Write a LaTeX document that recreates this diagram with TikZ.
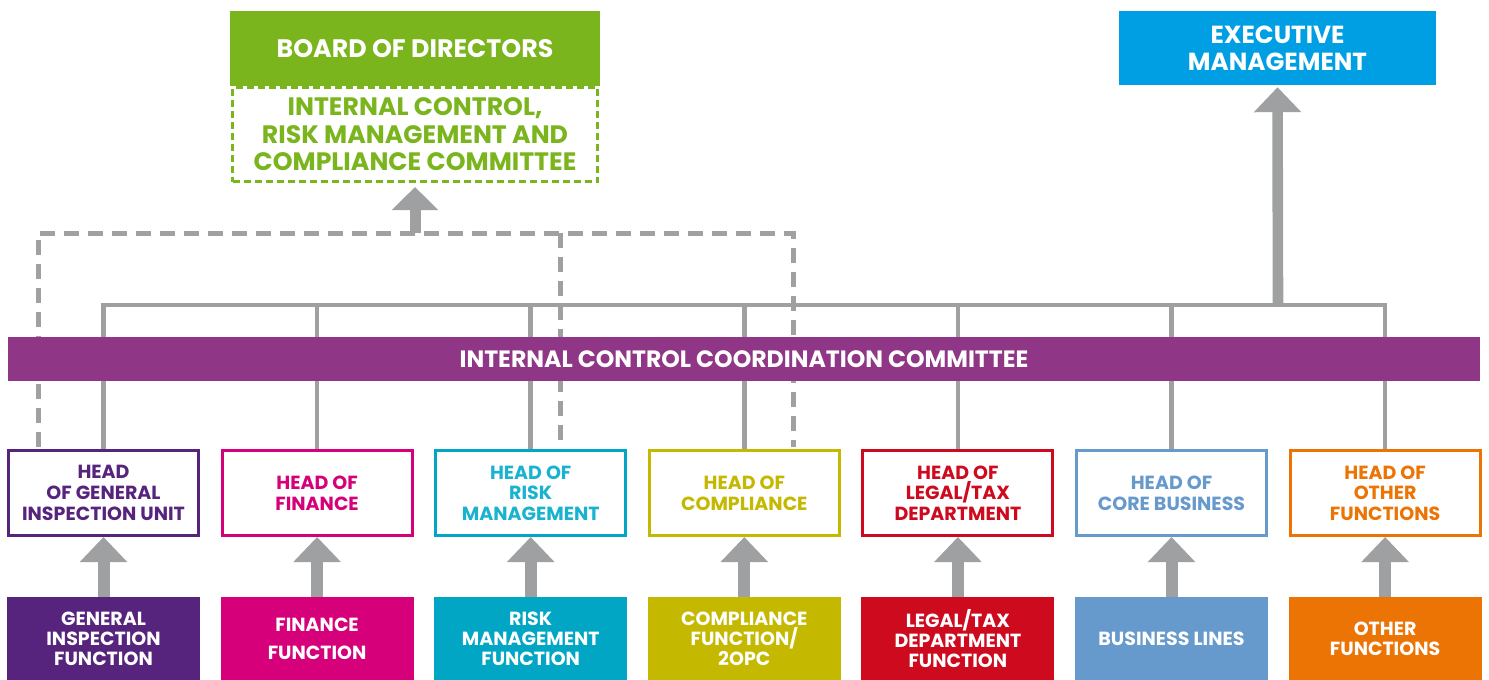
\documentclass[tikz,border=0pt]{standalone}
\usepackage{fontspec}
\newfontfamily\pf{Poppins}
\usetikzlibrary{arrows.meta,calc,backgrounds}
\definecolor{cgreen}{HTML}{7AB51D}
\definecolor{cblue}{HTML}{009FE3}
\definecolor{cband}{HTML}{8F3786}
\definecolor{cgray}{HTML}{9FA0A2}
\definecolor{cpur}{HTML}{56237D}
\definecolor{cmag}{HTML}{D5007A}
\definecolor{ccyan}{HTML}{00A6C4}
\definecolor{ccyant}{HTML}{1AB3CF}
\definecolor{colive}{HTML}{C5B800}
\definecolor{cred}{HTML}{CE0A1F}
\definecolor{clblue}{HTML}{6699CC}
\definecolor{corange}{HTML}{EC7405}
\tikzset{
  headbox/.style={draw=#1, text=#1, line width=3pt, fill=white, minimum width=190pt, minimum height=85pt,
    inner sep=0pt, align=center, font=\pf\bfseries\fontsize{19}{20.7}\selectfont},
  funcbox/.style={fill=#1, text=white, minimum width=193pt, minimum height=83pt,
    inner sep=0pt, align=center, font=\pf\bfseries\fontsize{19}{20}\selectfont},
  bus/.style={draw=cgray, line width=4.5pt},
  dashbus/.style={draw=cgray, line width=5pt, dash pattern=on 15pt off 9pt},
  bigarrow/.style={draw=cgray, line width=12pt, -{Triangle[width=46pt,length=25pt]}},
}
\begin{document}
\begin{tikzpicture}[x=1pt,y=-1pt]
\useasboundingbox (0,0) rectangle (1489,680);
% top boxes
\node[fill=cgreen, text=white, minimum width=370pt, minimum height=75pt, inner sep=0pt,
  font=\pf\bfseries\fontsize{25.3}{27}\selectfont] (board) at (415,48.5) {BOARD OF DIRECTORS};
\node[draw=cgreen, text=cgreen, line width=3pt, dash pattern=on 7pt off 4pt, minimum width=365pt, minimum height=94pt,
  inner sep=0pt, align=center, font=\pf\bfseries\fontsize{25.2}{27.5}\selectfont] (icrc) at (415,134.5)
  {INTERNAL CONTROL,\\RISK MANAGEMENT AND\\COMPLIANCE COMMITTEE};
\node[fill=cblue, text=white, minimum width=317pt, minimum height=74pt, inner sep=0pt, align=center,
  font=\pf\bfseries\fontsize{24.7}{26.7}\selectfont] (exec) at (1277.5,48) {EXECUTIVE\\MANAGEMENT};
% head boxes
\node[headbox=cpur] (h1) at (103.5,493) {HEAD\\OF GENERAL\\INSPECTION UNIT};
\node[headbox=cmag] (h2) at (317.1,493) {HEAD OF\\FINANCE};
\node[headbox=ccyan, text=ccyant] (h3) at (530.7,493) {HEAD OF\\RISK\\MANAGEMENT};
\node[headbox=colive] (h4) at (744.3,493) {HEAD OF\\COMPLIANCE};
\node[headbox=cred] (h5) at (957.9,493) {HEAD OF\\LEGAL/TAX\\DEPARTMENT};
\node[headbox=clblue] (h6) at (1171.5,493) {HEAD OF\\CORE BUSINESS};
\node[headbox=corange] (h7) at (1385.1,493) {HEAD OF\\OTHER\\FUNCTIONS};
% function boxes
\node[funcbox=cpur] (f1) at (103.5,638.5) {GENERAL\\INSPECTION\\FUNCTION};
\node[funcbox=cmag, font=\pf\bfseries\fontsize{19}{28}\selectfont] (f2) at (317.1,638.5) {FINANCE\\FUNCTION};
\node[funcbox=ccyan] (f3) at (530.7,638.5) {RISK\\MANAGEMENT\\FUNCTION};
\node[funcbox=colive] (f4) at (744.3,638.5) {COMPLIANCE\\FUNCTION/\\2OPC};
\node[funcbox=cred] (f5) at (957.9,638.5) {LEGAL/TAX\\DEPARTMENT\\FUNCTION};
\node[funcbox=clblue] (f6) at (1171.5,638.5) {BUSINESS LINES};
\node[funcbox=corange] (f7) at (1385.1,638.5) {OTHER\\FUNCTIONS};
% band
\node[fill=cband, text=white, minimum width=1472pt, minimum height=44pt, inner sep=0pt,
  font=\pf\bfseries\fontsize{23.6}{26}\selectfont] (band) at (744,359) {INTERNAL CONTROL COORDINATION COMMITTEE};
% coordinates
\coordinate (busy) at (0,305);
\coordinate (dy) at (0,233);
\coordinate (dl) at (38,447);
\coordinate (dm) at (560,449);
\coordinate (dr) at (793.5,447);
\coordinate (dc) at (415,233);
\coordinate (ex) at (1278,305);
\begin{scope}[on background layer]
\draw[dashbus] (dl) -- (dl |- dy) -- (dr |- dy) -- (dr);
\draw[dashbus] (dm |- dy) -- (dm);
\draw[bus] (h1.north) -- (h1.north |- busy) -- (h7.north |- busy) -- (h7.north);
\foreach \n in {h2,h3,h4,h5,h6} \draw[bus] (\n.north) -- (\n.north |- busy);
\end{scope}
% arrows
\draw[bigarrow, line width=10.6pt] (ex) -- ([yshift=-2pt]exec.south);
\draw[bigarrow, line width=11pt, -{Triangle[width=45pt,length=23pt]}] (dc) -- ([yshift=-4pt]icrc.south);
\foreach \k in {1,...,7} \draw[bigarrow] (f\k.north) -- (h\k.south);
\end{tikzpicture}
\end{document}
